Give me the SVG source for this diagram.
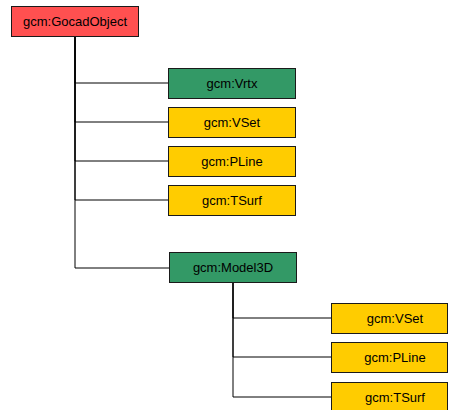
<svg xmlns="http://www.w3.org/2000/svg" width="449" height="410" viewBox="0 0 449 410">
<style>
.box{stroke:#1a1a1a;stroke-width:1}
.red{fill:#FF5050}
.green{fill:#339966}
.yellow{fill:#FFCC00}
.lbl{font-family:"Liberation Sans",Arial,sans-serif;font-size:13px;fill:#000;text-anchor:middle}
.conn{fill:none;stroke:#000;stroke-width:1}
</style>
<rect width="449" height="410" fill="#fff"/>
<g id="connectors">
<path class="conn" d="M75,36 V83 H168"/>
<path class="conn" d="M75,36 V122 H168"/>
<path class="conn" d="M75,36 V161 H168"/>
<path class="conn" d="M75,36 V200 H168"/>
<path class="conn" d="M75,36 V268 H169"/>
<path class="conn" d="M233,283 V318 H331"/>
<path class="conn" d="M233,283 V357 H331"/>
<path class="conn" d="M233,283 V397 H331"/>
</g>
<g id="GocadObject"><rect class="box red" x="11.5" y="6.5" width="127" height="30"/><text class="lbl" x="75" y="26">gcm:GocadObject</text></g>
<g id="Vrtx"><rect class="box green" x="168.5" y="68.5" width="127" height="30"/><text class="lbl" x="232" y="88">gcm:Vrtx</text></g>
<g id="VSet1"><rect class="box yellow" x="168.5" y="107.5" width="127" height="30"/><text class="lbl" x="232" y="127">gcm:VSet</text></g>
<g id="PLine1"><rect class="box yellow" x="168.5" y="146.5" width="127" height="30"/><text class="lbl" x="232" y="166">gcm:PLine</text></g>
<g id="TSurf1"><rect class="box yellow" x="168.5" y="185.5" width="127" height="30"/><text class="lbl" x="232" y="205">gcm:TSurf</text></g>
<g id="Model3D"><rect class="box green" x="169.5" y="252.5" width="127" height="30"/><text class="lbl" x="233" y="272">gcm:Model3D</text></g>
<g id="VSet2"><rect class="box yellow" x="331.5" y="303.5" width="116" height="30"/><text class="lbl" x="395" y="323">gcm:VSet</text></g>
<g id="PLine2"><rect class="box yellow" x="331.5" y="342.5" width="116" height="30"/><text class="lbl" x="395" y="362">gcm:PLine</text></g>
<g id="TSurf2"><rect class="box yellow" x="331.5" y="382.5" width="116" height="30"/><text class="lbl" x="395" y="402">gcm:TSurf</text></g>
</svg>
